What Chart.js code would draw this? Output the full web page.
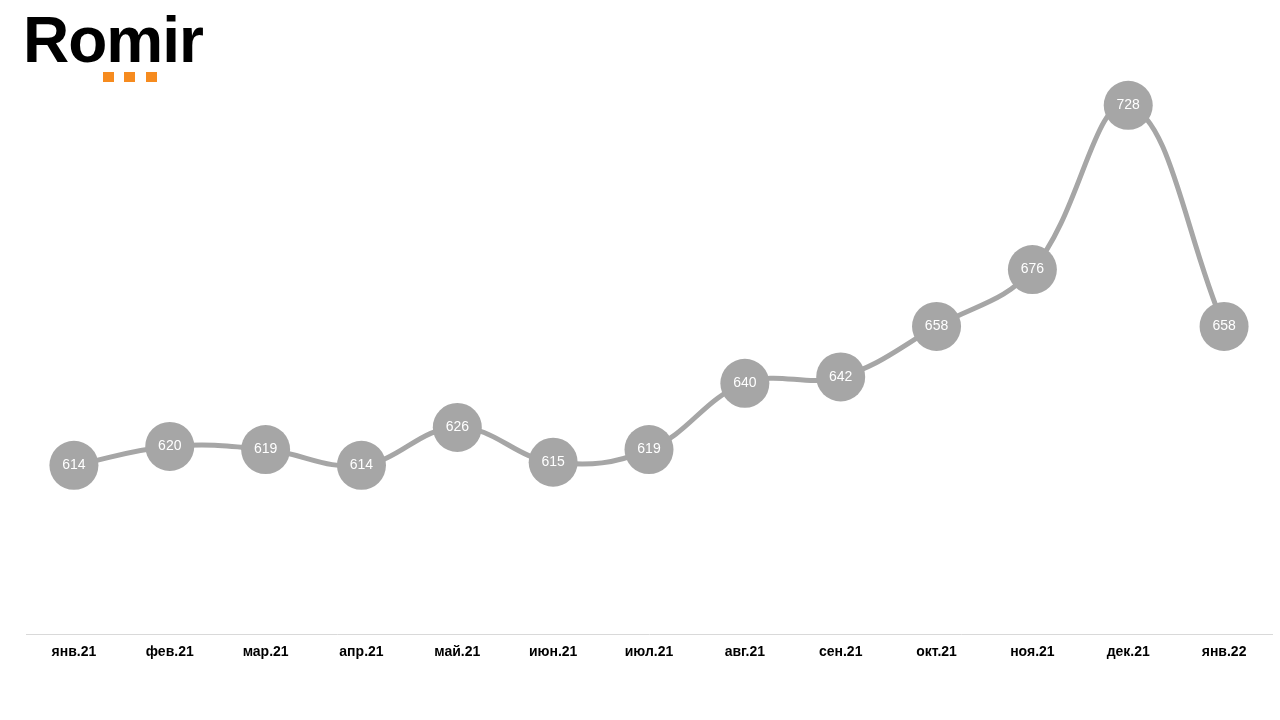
<!DOCTYPE html>
<html><head><meta charset="utf-8">
<script src="https://cdn.jsdelivr.net/npm/chart.js@4/dist/chart.umd.min.js"></script>
<style>
html,body{margin:0;padding:0;background:#fff;}
#wrap{position:relative;width:1280px;height:720px;}
#logo{position:absolute;left:23px;top:5px;font-family:"Liberation Sans",Arial,sans-serif;font-weight:bold;font-size:64px;letter-spacing:-1px;color:#000;line-height:70px;}
.sq{position:absolute;top:72px;width:11px;height:10px;background:#f68b1f;}
canvas{position:absolute;left:0;top:0;}
</style></head>
<body>
<div id="wrap">
<canvas id="c" width="1280" height="720"></canvas>
<div id="logo">Romir</div>
<div class="sq" style="left:103px"></div>
<div class="sq" style="left:124px"></div>
<div class="sq" style="left:146px"></div>
</div>
<script>
const categories = ["янв.21","фев.21","мар.21","апр.21","май.21","июн.21","июл.21","авг.21","сен.21","окт.21","ноя.21","дек.21","янв.22"];
const values = [614,620,619,614,626,615,619,640,642,658,676,728,658];

const labelPlugin = {
  id:'ptLabels',
  afterDatasetsDraw(chart){
    const ctx = chart.ctx;
    const meta = chart.getDatasetMeta(0);
    ctx.save();
    ctx.fillStyle = '#ffffff';
    ctx.font = '14px "Liberation Sans", Arial, sans-serif';
    ctx.textAlign = 'center';
    ctx.textBaseline = 'middle';
    meta.data.forEach((pt,i)=>{
      ctx.fillText(String(values[i]), pt.x, pt.y);
    });
    ctx.restore();
  }
};

new Chart(document.getElementById('c'), {
  type:'line',
  data:{
    labels:categories,
    datasets:[{
      data:values,
      borderColor:'#a6a6a6',
      backgroundColor:'#a6a6a6',
      borderWidth:5,
      tension:0.4,
      pointRadius:24.5,
      pointHoverRadius:24.5,
      pointBackgroundColor:'#a6a6a6',
      pointBorderColor:'#a6a6a6',
      pointBorderWidth:0,
      fill:false
    }]
  },
  options:{
    responsive:false,
    animation:false,
    events:[],
    layout:{autoPadding:false,padding:{left:26,right:8,top:34,bottom:0}},
    plugins:{legend:{display:false},tooltip:{enabled:false}},
    scales:{
      x:{
        offset:true,
        grid:{display:false,drawTicks:false},
        border:{display:true,color:'#d9d9d9',width:1},
        ticks:{color:'#000',padding:10,font:{family:'"Liberation Sans", Arial, sans-serif',size:14,weight:'bold'}},
        afterFit(scale){ scale.height = 86; }
      },
      y:{
        display:false,
        min:560.6,
        max:750.6
      }
    }
  },
  plugins:[labelPlugin]
});
</script>
</body></html>
